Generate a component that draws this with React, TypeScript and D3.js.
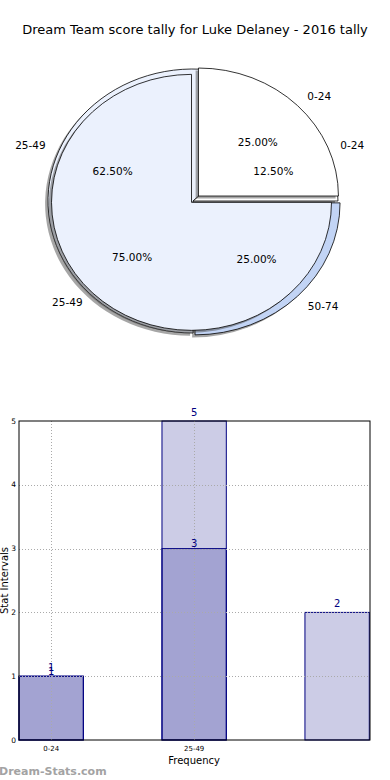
import { useEffect, useRef } from "react";
import * as d3 from "d3";

// pie: two overlaid tallies
const outerLabels = ["0-24", "25-49", "50-74"];
const outerValues = [1, 5, 2];
const innerLabels = ["0-24", "25-49"];
const innerValues = [1, 3];

// bars
const darkCats = ["0-24", "25-49"];
const darkValues = [1, 3];
const lightCats = ["0-24", "25-49", "50-74"];
const lightValues = [1, 5, 2];
const yTicks = [0, 1, 2, 3, 4, 5];

const FONT = "DejaVu Sans, Verdana, sans-serif";

export default function App() {
  const ref = useRef<SVGSVGElement | null>(null);

  useEffect(() => {
    if (!ref.current) return;
    const svg = d3.select(ref.current);
    svg.selectAll("*").remove();

    svg.append("rect").attr("width", 390).attr("height", 780).attr("fill", "#fff");

    // Title
    svg.append("text")
      .attr("x", 195)
      .attr("y", 34)
      .attr("text-anchor", "middle")
      .attr("font-family", FONT)
      .attr("font-size", 13)
      .attr("fill", "#000")
      .text("Dream Team score tally for Luke Delaney - 2016 tally");

    // ---------- Pie ----------
    const cx = 193, cy = 201;
    const R = 100;
    const arc = d3.arc<d3.PieArcDatum<number>>().innerRadius(0).outerRadius(R);
    const pie = d3.pie<number>()
      .sort(null)
      .startAngle(Math.PI / 2)
      .endAngle(-1.5 * Math.PI);

    type PieSpec = {
      labels: string[];
      values: number[];
      rx: number;
      ry: number;
      explode: number[];
      colors: string[];
    };

    const outer: PieSpec = {
      labels: outerLabels, values: outerValues,
      rx: 145, ry: 132, explode: [0, 0, 0.02],
      colors: ["#ffffff", "#ebf1fd", "#c2d4f5"],
    };
    const inner: PieSpec = {
      labels: innerLabels, values: innerValues,
      rx: 140, ry: 128, explode: [0.055, 0.015],
      colors: ["#ffffff", "#ebf1fd"],
    };

    function drawPie(spec: PieSpec) {
      const arcs = pie(spec.values);
      const mids = arcs.map(a => (a.startAngle + a.endAngle) / 2);
      const centers = arcs.map((a, i) => [
        cx + spec.explode[i] * spec.rx * Math.sin(mids[i]),
        cy - spec.explode[i] * spec.ry * Math.cos(mids[i]),
      ]);
      const sx = spec.rx / R, sy = spec.ry / R;

      // shadows
      svg.append("g").selectAll("path")
        .data(arcs)
        .enter()
        .append("path")
        .attr("transform", (d, i) =>
          `translate(${centers[i][0] - 0.02 * spec.rx},${centers[i][1] + 0.02 * spec.ry}) scale(${sx},${sy})`)
        .attr("d", arc)
        .attr("fill", "#4d4d4d")
        .attr("fill-opacity", 0.5);

      // wedges
      svg.append("g").selectAll("path")
        .data(arcs)
        .enter()
        .append("path")
        .attr("transform", (d, i) => `translate(${centers[i][0]},${centers[i][1]}) scale(${sx},${sy})`)
        .attr("d", arc)
        .attr("fill", (d, i) => spec.colors[i])
        .attr("stroke", "#000")
        .attr("stroke-width", 0.8)
        .attr("vector-effect", "non-scaling-stroke")
        .attr("stroke-linejoin", "round");

      return { arcs, mids, centers };
    }

    function drawPieText(spec: PieSpec, geo: ReturnType<typeof drawPie>) {
      const sum = d3.sum(spec.values);
      geo.arcs.forEach((a, i) => {
        const m = geo.mids[i];
        const [px, py] = geo.centers[i];
        // category label
        svg.append("text")
          .attr("x", px + 1.1 * spec.rx * Math.sin(m))
          .attr("y", py - 1.1 * spec.ry * Math.cos(m))
          .attr("text-anchor", Math.sin(m) > 0 ? "start" : "end")
          .attr("dominant-baseline", "central")
          .attr("font-family", FONT)
          .attr("font-size", 10.5)
          .text(spec.labels[i]);
        // percentage
        svg.append("text")
          .attr("x", px + 0.6 * spec.rx * Math.sin(m))
          .attr("y", py - 0.6 * spec.ry * Math.cos(m))
          .attr("text-anchor", "middle")
          .attr("dominant-baseline", "central")
          .attr("font-family", FONT)
          .attr("font-size", 10.5)
          .text(d3.format(".2f")((spec.values[i] / sum) * 100) + "%");
      });
    }

    const gOuter = drawPie(outer);
    const gInner = drawPie(inner);
    drawPieText(outer, gOuter);
    drawPieText(inner, gInner);

    // ---------- Bars ----------
    const left = 19, right = 370, top = 421, bottom = 740;
    const barW = 0.45;
    const x = d3.scaleLinear().domain([0, 2.455]).range([left, right]);
    const y = d3.scaleLinear().domain([0, 5]).range([bottom, top]);
    const navy = "#000080";

    const bars = svg.append("g");
    bars.selectAll("rect.light")
      .data(lightValues)
      .enter()
      .append("rect")
      .attr("class", "light")
      .attr("x", (d, i) => x(i))
      .attr("y", d => y(d))
      .attr("width", x(barW) - x(0))
      .attr("height", d => y(0) - y(d))
      .attr("fill", navy)
      .attr("fill-opacity", 0.2)
      .attr("stroke", navy)
      .attr("stroke-width", 1);

    bars.selectAll("rect.dark")
      .data(darkValues)
      .enter()
      .append("rect")
      .attr("class", "dark")
      .attr("x", (d, i) => x(i))
      .attr("y", d => y(d))
      .attr("width", x(barW) - x(0))
      .attr("height", d => y(0) - y(d))
      .attr("fill", navy)
      .attr("fill-opacity", 0.2)
      .attr("stroke", navy)
      .attr("stroke-width", 1);

    // grid (drawn over bars)
    const grid = svg.append("g")
      .attr("stroke", "#aaa")
      .attr("stroke-width", 1)
      .attr("stroke-dasharray", "1,2");
    yTicks.slice(1, -1).forEach(t => {
      grid.append("line")
        .attr("x1", left).attr("x2", right)
        .attr("y1", Math.round(y(t)) + 0.5).attr("y2", Math.round(y(t)) + 0.5);
    });
    darkCats.forEach((c, i) => {
      const tx = Math.round(x(i + barW / 2)) + 0.5;
      grid.append("line")
        .attr("x1", tx).attr("x2", tx)
        .attr("y1", top).attr("y2", bottom);
    });

    // frame
    svg.append("rect")
      .attr("x", left).attr("y", top)
      .attr("width", right - left).attr("height", bottom - top)
      .attr("fill", "none")
      .attr("stroke", "#000")
      .attr("stroke-width", 1);

    // y tick labels
    svg.append("g").selectAll("text")
      .data(yTicks)
      .enter()
      .append("text")
      .attr("x", left - 3)
      .attr("y", d => y(d))
      .attr("text-anchor", "end")
      .attr("dominant-baseline", "central")
      .attr("font-family", FONT)
      .attr("font-size", 7.5)
      .text(d => d);

    // x tick labels
    svg.append("g").selectAll("text")
      .data(darkCats)
      .enter()
      .append("text")
      .attr("x", (d, i) => x(i + barW / 2))
      .attr("y", bottom + 11)
      .attr("text-anchor", "middle")
      .attr("font-family", FONT)
      .attr("font-size", 7)
      .text(d => d);

    // value labels
    const valLabels = svg.append("g")
      .attr("font-family", FONT)
      .attr("font-size", 10)
      .attr("fill", navy)
      .attr("text-anchor", "middle");
    lightValues.forEach((v, i) => {
      valLabels.append("text")
        .attr("x", x(i + barW / 2))
        .attr("y", y(v) - 5)
        .text(v);
    });
    darkValues.forEach((v, i) => {
      valLabels.append("text")
        .attr("x", x(i + barW / 2))
        .attr("y", y(v) - 1.5)
        .text(v);
    });

    // axis labels
    svg.append("text")
      .attr("x", x(1 + barW / 2))
      .attr("y", 764)
      .attr("text-anchor", "middle")
      .attr("font-family", FONT)
      .attr("font-size", 10)
      .text("Frequency");

    svg.append("text")
      .attr("transform", `translate(8,${(top + bottom) / 2}) rotate(-90)`)
      .attr("text-anchor", "middle")
      .attr("font-family", FONT)
      .attr("font-size", 10)
      .text("Stat Intervals");

    // watermark
    svg.append("text")
      .attr("x", -1)
      .attr("y", 775)
      .attr("font-family", FONT)
      .attr("font-size", 11)
      .attr("font-weight", "bold")
      .attr("fill", "#a3a3a3")
      .text("Dream-Stats.com");
  }, []);

  return (
    <svg
      ref={ref}
      width={390}
      height={780}
      style={{ position: "absolute", left: 0, top: 0, display: "block" }}
    />
  );
}
